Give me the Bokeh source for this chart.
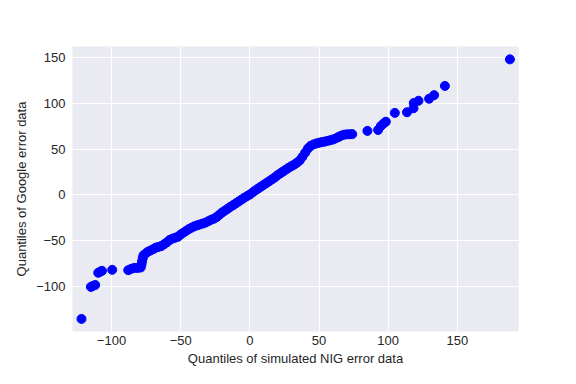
from bokeh.plotting import figure
from bokeh.models import Range1d, FixedTicker, CustomJSTickFormatter
from bokeh.embed import file_html
from bokeh.resources import INLINE

# Lower tail (sparse points)
tail_lo_x = [-121.7, -114.9, -113.5, -111.8, -109.6, -108.2, -106.9, -99.5,
             -87.9, -85.7, -83.6, -81.2, -78.9, -78.3, -77.9, -77.4, -76.9]
tail_lo_y = [-134.8, -100.0, -99.0, -97.9, -84.6, -83.5, -82.5, -81.4,
             -81.8, -80.3, -79.3, -79.4, -78.9, -75.5, -72.0, -68.5, -65.8]

# Dense central body
body_x = [-76, -74, -72, -70, -68, -66, -64, -62, -60, -58, -56, -54, -52, -50,
          -48, -46, -44, -42, -40, -38, -36, -34, -32, -30, -28, -26, -24, -22,
          -20, -18, -16, -14, -12, -10, -8, -6, -4, -2, 0, 2, 4, 6, 8, 10, 12,
          14, 16, 18, 20, 22, 24, 26, 28, 30, 32, 34, 36, 38, 40, 42, 44, 46,
          48, 50, 52, 54, 56, 58, 60, 62, 64, 66, 68, 70, 72, 74]
body_y = [-64.5, -62.0, -60.5, -59.0, -57.3, -56.5, -55.5, -53.6, -51.5, -49.0,
          -47.5, -46.5, -45.5, -43.0, -41.0, -39.0, -37.0, -35.5, -34.0, -33.0,
          -32.0, -31.0, -30.0, -28.5, -27.0, -25.8, -24.0, -21.5, -19.0, -17.0,
          -15.0, -12.8, -11.0, -9.0, -7.0, -5.0, -3.0, -1.2, 0.5, 2.8, 5.0, 7.0,
          9.0, 11.0, 13.0, 15.0, 17.0, 19.0, 21.5, 23.5, 25.5, 27.5, 29.5, 31.3,
          33.0, 35.0, 37.5, 41.5, 46.0, 50.5, 53.5, 55.0, 56.0, 56.8, 57.5, 58.0,
          58.8, 59.5, 60.3, 61.5, 63.0, 64.5, 65.5, 66.0, 66.0, 66.2]

# Upper tail (sparse points)
tail_hi_x = [85.0, 92.7, 94.7, 96.5, 98.3, 104.8, 113.6, 118.3, 118.5, 121.9,
             129.6, 133.2, 141.0, 188.0]
tail_hi_y = [69.7, 70.7, 75.0, 77.5, 79.7, 89.3, 90.0, 94.3, 100.0, 102.5,
             104.7, 108.6, 118.6, 147.5]

x_ticks = [-100, -50, 0, 50, 100, 150]
y_ticks = [-100, -50, 0, 50, 100, 150]

xs = tail_lo_x + body_x + tail_hi_x
ys = tail_lo_y + body_y + tail_hi_y

p = figure(width=560, height=368, output_backend="svg", toolbar_location=None,
           x_range=Range1d(-128.2, 194.2), y_range=Range1d(-148.5, 161.5),
           min_border_left=72, min_border_right=42, min_border_top=46,
           min_border_bottom=33)

p.background_fill_color = "#EAEAF2"
p.border_fill_color = "white"
p.outline_line_color = None

p.scatter(xs, ys, size=9, color="#0000FF", line_color="#0000FF")

fmt = CustomJSTickFormatter(code="return tick < 0 ? '\u2212' + Math.abs(tick) : tick.toString();")

for ax, ticks in ((p.xaxis[0], x_ticks), (p.yaxis[0], y_ticks)):
    ax.ticker = FixedTicker(ticks=ticks)
    ax.formatter = fmt
    ax.axis_line_color = None
    ax.major_tick_line_color = None
    ax.minor_tick_line_color = None
    ax.major_tick_out = 0
    ax.major_tick_in = 0
    ax.major_label_text_font = "Liberation Sans"
    ax.major_label_text_font_size = "13px"
    ax.major_label_text_color = "#262626"
    ax.axis_label_text_font = "Liberation Sans"
    ax.axis_label_text_font_size = "13px"
    ax.axis_label_text_font_style = "normal"
    ax.axis_label_text_color = "#262626"

p.xaxis.axis_label = "Quantiles of simulated NIG error data"
p.yaxis.axis_label = "Quantiles of Google error data"
p.xaxis.major_label_standoff = 4
p.yaxis.major_label_standoff = 7
p.xaxis.axis_label_standoff = 3
p.yaxis.axis_label_standoff = 4

p.xgrid.ticker = FixedTicker(ticks=x_ticks)
p.ygrid.ticker = FixedTicker(ticks=y_ticks)
p.grid.grid_line_color = "white"
p.grid.grid_line_width = 1.2

open("out.html", "w").write(file_html(p, INLINE))
